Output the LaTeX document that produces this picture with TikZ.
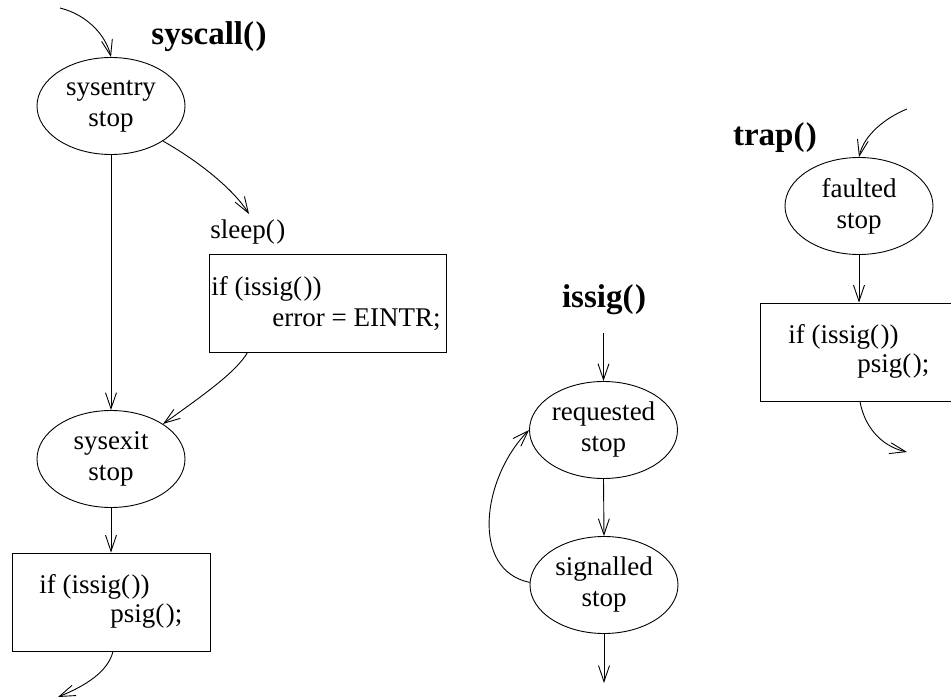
\documentclass[tikz,border=0pt]{standalone}
\usepackage{fontspec}
\setmainfont{Liberation Serif}
\usetikzlibrary{arrows.meta,shapes.geometric}
\newcommand{\pp}{(\kern1.5pt)}
\begin{document}
\begin{tikzpicture}[x=1pt,y=-1pt,line width=0.9pt,
  state/.style={ellipse,draw,minimum width=148pt,minimum height=97pt,inner sep=0pt,
    align=center,font=\fontsize{27}{31}\selectfont},
  codebox/.style={rectangle,draw,minimum width=198pt,minimum height=98pt,inner sep=0pt},
  code/.style={anchor=base west,inner sep=0pt,font=\fontsize{27}{31}\selectfont},
  title/.style={anchor=base,inner sep=0pt,font=\bfseries\fontsize{33}{36}\selectfont},
  flow/.style={-{Straight Barb[length=16pt,width=11pt]}}]
\useasboundingbox (0,0) rectangle (951,698);
\clip (0,0) rectangle (951,698);

% ---- system call path ----
\node[title] (tsys) at (209,45) {syscall\pp};
\node[state] (entry) at (111,106) {sysentry\\stop};
\node[state] (exit) at (111,459) {sysexit\\stop};
\node[codebox] (exitbox) at (111,602) {};
\node[code] (e1) at (39,593) {if (issig\pp)};
\node[code] (e2) at (110,622) {psig\pp;};

\node[code] (tsleep) at (210,238) {sleep\pp};
\node[codebox,minimum width=237pt] (sleepbox) at (327.5,303) {};
\node[code] (s1) at (211,295) {if (issig\pp)};
\node[code] (s2) at (272,326) {error = EINTR;};

\coordinate (sysin) at (60,8);
\coordinate (sleeptip) at (249,214);
\coordinate (sysout) at (58,697);

\draw[flow] (sysin) .. controls (88,15) and (106,36) .. (entry.north);
\draw[flow] (entry.south) -- (exit.north);
\draw[flow] (entry.-34) .. controls (200,162) and (234,190) .. (sleeptip);
\draw[flow] ([xshift=39pt]sleepbox.south west) .. controls (236,372) and (205,394) .. (exit.34);
\draw[flow] (exit.south) -- (exitbox.north);
\draw[flow] ([xshift=2pt]exitbox.south) .. controls (108,672) and (85,686) .. (sysout);

% ---- signal check ----
\node[title] (tissig) at (604,307) {issig\pp};
\node[state] (req) at (603.5,430) {requested\\stop};
\node[state] (sig) at (604,585) {signalled\\stop};
\coordinate (issin) at (603.5,333);
\coordinate (issout) at (604,683);

\draw[flow] (issin) -- (req.north);
\draw[flow] (req.south) -- (sig.north);
\draw[flow] (sig.south) -- (issout);
\draw[flow] (sig.178) .. controls (470,570) and (482,478) .. (req.180);

% ---- trap path ----
\node[title] (ttrap) at (775,146) {trap\pp};
\node[state] (fault) at (859,206) {faulted\\stop};
\node[codebox] (trapbox) at (859,352) {};
\node[code] (t1) at (788,343) {if (issig\pp)};
\node[code] (t2) at (857,372) {psig\pp;};
\coordinate (trapin) at (907,109);
\coordinate (trapout) at (907,452);

\draw[flow] (trapin) .. controls (885,118) and (864,135) .. (fault.north);
\draw[flow] (fault.south) -- (trapbox.north);
\draw[flow] ([xshift=1pt]trapbox.south) .. controls (864,425) and (880,446) .. (trapout);
\end{tikzpicture}
\end{document}
